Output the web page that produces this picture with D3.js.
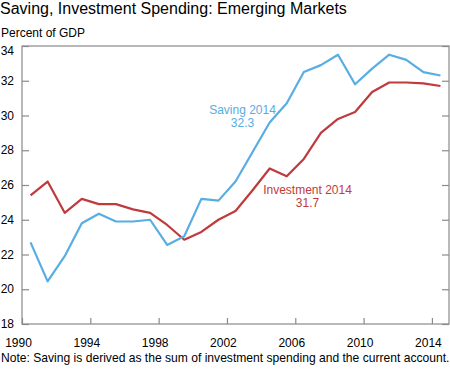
<!DOCTYPE html>
<html>
<head>
<meta charset="utf-8">
<script src="https://cdn.jsdelivr.net/npm/d3@7"></script>
<style>
  html, body { margin: 0; padding: 0; background: #fff; }
  svg { display: block; font-family: "Liberation Sans", Arial, sans-serif; }
</style>
</head>
<body>
<svg id="chart" width="450" height="371"></svg>
<script>
const years = [1990,1991,1992,1993,1994,1995,1996,1997,1998,1999,2000,2001,2002,2003,2004,2005,2006,2007,2008,2009,2010,2011,2012,2013,2014];
const saving = [22.7,20.45,21.9,23.8,24.35,23.9,23.9,24.0,22.55,23.05,25.2,25.1,26.2,27.9,29.6,30.7,32.5,32.9,33.5,31.8,32.7,33.5,33.2,32.5,32.3];
const investment = [25.4,26.2,24.4,25.2,24.9,24.9,24.6,24.4,23.7,22.85,23.3,24.0,24.5,25.7,26.95,26.5,27.5,29.0,29.8,30.2,31.35,31.9,31.9,31.85,31.7];
const xTicks = [1990,1994,1998,2002,2006,2010,2014];
const yTicks = [18,20,22,24,26,28,30,32,34];
const title = "Saving, Investment Spending: Emerging Markets";
const unitLabel = "Percent of GDP";
const note = "Note: Saving is derived as the sum of investment spending and the current account.";
const savingLabel = ["Saving 2014", "32.3"];
const investmentLabel = ["Investment 2014", "31.7"];

const BLUE = "#58ade2", RED = "#bf3a3c", AXIS = "#8a8a8a";
const svg = d3.select("#chart");
const L = 22, R = 449, T = 46, B = 324;
const x = d3.scaleLinear().domain([1990, 2015]).range([L, R]);
const y = d3.scaleLinear().domain([18, 34]).range([B, T]);

// frame
svg.append("rect").attr("x", L).attr("y", T).attr("width", R - L).attr("height", B - T)
  .attr("fill", "none").attr("stroke", AXIS).attr("stroke-width", 1.2);

// left axis (inward ticks)
const yl = svg.append("g").attr("transform", `translate(${L},0)`)
  .call(d3.axisRight(y).tickValues(yTicks).tickSize(7).tickFormat(""));
yl.select(".domain").remove();
yl.selectAll("line").attr("stroke", AXIS).attr("stroke-width", 1.2);
// right axis (inward ticks)
const yr = svg.append("g").attr("transform", `translate(${R},0)`)
  .call(d3.axisLeft(y).tickValues(yTicks).tickSize(7).tickFormat(""));
yr.select(".domain").remove();
yr.selectAll("line").attr("stroke", AXIS).attr("stroke-width", 1.2);
// bottom axis (inward ticks)
const xb = svg.append("g").attr("transform", `translate(0,${B})`)
  .call(d3.axisTop(x).tickValues(xTicks).tickSize(6).tickFormat(""));
xb.select(".domain").remove();
xb.selectAll("line").attr("stroke", AXIS).attr("stroke-width", 1.2);

// y tick labels
svg.append("g").selectAll("text").data(yTicks).join("text")
  .attr("x", 14).attr("y", d => y(d) + (d === 34 ? 5 : 0))
  .attr("dy", "0.35em").attr("text-anchor", "end")
  .attr("font-size", 12).attr("fill", "#000").text(d => d);

// x tick labels
svg.append("g").selectAll("text").data(xTicks).join("text")
  .attr("x", d => x(d) - 3.5).attr("y", 347)
  .attr("text-anchor", "middle").attr("font-size", 12).attr("fill", "#000").text(d => d);

// lines (annual values plotted mid-year)
const line = d3.line().x((d, i) => x(years[i] + 0.5)).y(d => y(d));
svg.append("path").datum(investment).attr("d", line)
  .attr("fill", "none").attr("stroke", RED).attr("stroke-width", 2.2).attr("stroke-linejoin", "round");
svg.append("path").datum(saving).attr("d", line)
  .attr("fill", "none").attr("stroke", BLUE).attr("stroke-width", 2.2).attr("stroke-linejoin", "round");

// annotations
svg.append("text").attr("x", 242.5).attr("y", 113.5).attr("text-anchor", "middle")
  .attr("font-size", 12).attr("fill", BLUE)
  .selectAll("tspan").data(savingLabel).join("tspan")
  .attr("x", 242.5).attr("dy", (d, i) => i ? 13.6 : 0).text(d => d);
svg.append("text").attr("x", 307.5).attr("y", 193.5).attr("text-anchor", "middle")
  .attr("font-size", 12).attr("fill", RED)
  .selectAll("tspan").data(investmentLabel).join("tspan")
  .attr("x", 307.5).attr("dy", (d, i) => i ? 13.6 : 0).text(d => d);

// titles
svg.append("text").attr("x", 0).attr("y", 14).attr("font-size", 16).attr("fill", "#000").text(title);
svg.append("text").attr("x", 1).attr("y", 37).attr("font-size", 12).attr("fill", "#000").text(unitLabel);
svg.append("text").attr("x", 1).attr("y", 362).attr("font-size", 12.1).attr("fill", "#000").text(note);
</script>
</body>
</html>
